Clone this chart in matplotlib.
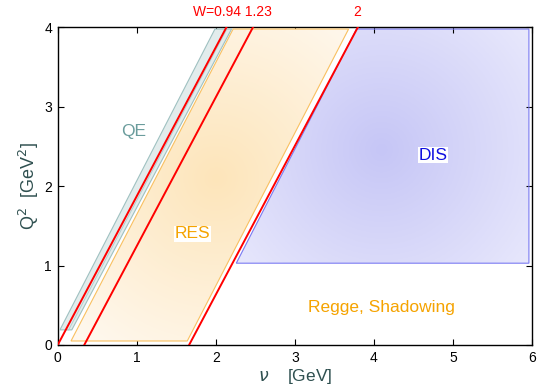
import matplotlib
matplotlib.use('Agg')
import matplotlib.pyplot as plt
import numpy as np
from matplotlib.patches import Polygon
from matplotlib.colors import LinearSegmentedColormap

plt.rcParams['font.family'] = ['Liberation Sans', 'DejaVu Sans']

# nucleon mass and invariant masses of the red lines
M = 0.938
W_vals = [0.94, 1.23, 2.0]
W_labels = ['W=0.94', '1.23', '2']

# region corners (nu, Q2)
qe_nu = [0.03, 0.18, 2.20, 1.99]
qe_q2 = [0.19, 0.19, 3.98, 3.98]
res_nu = [0.17, 1.64, 3.68, 2.22]
res_q2 = [0.05, 0.05, 3.98, 3.98]
dis_nu = [2.26, 5.96, 5.96, 3.78]
dis_q2 = [1.03, 1.03, 3.98, 3.98]

fig = plt.figure(figsize=(5.38, 3.92), dpi=100)
ax = fig.add_axes([0.107, 0.12, 0.882, 0.81])
ax.set_xlim(0, 6)
ax.set_ylim(0, 4)


def gradient_fill(nu, q2, cx, cy, c_in, c_out, edge, zorder, rad=2.6):
    poly = Polygon(np.column_stack([nu, q2]), closed=True, facecolor='none',
                   edgecolor=edge, lw=0.8, zorder=zorder + 1)
    ax.add_patch(poly)
    xs = np.linspace(min(nu), max(nu), 200)
    ys = np.linspace(min(q2), max(q2), 200)
    X, Y = np.meshgrid(xs, ys)
    r = np.sqrt(((X - cx) / rad) ** 2 + ((Y - cy) / rad) ** 2)
    r = np.clip(r, 0, 1)
    cmap = LinearSegmentedColormap.from_list('g', [c_in, c_out])
    im = ax.imshow(r, extent=[min(nu), max(nu), min(q2), max(q2)], origin='lower',
                   cmap=cmap, vmin=0, vmax=1, aspect='auto', zorder=zorder,
                   interpolation='bilinear')
    clip = Polygon(np.column_stack([nu, q2]), closed=True, transform=ax.transData)
    im.set_clip_path(clip)


# DIS region
gradient_fill(dis_nu, dis_q2, 4.1, 2.45, '#c6c6f6', '#eeeefd', '#7a7af2', 1, rad=2.8)
# RES region
gradient_fill(res_nu, res_q2, 2.0, 2.1, '#fde5ba', '#fff8ee', '#f9c060', 3, rad=2.6)

# QE band
ax.add_patch(Polygon(np.column_stack([qe_nu, qe_q2]), closed=True,
                     facecolor='#e2ecec', edgecolor='#9fc1c1', lw=0.8, zorder=5))
ax.plot([0.14, 2.14], [0.19, 3.98], color='#b5cfcf', lw=0.7, zorder=6)

# constant-W lines: Q2 = M^2 + 2 M nu - W^2
nu = np.array([0, 6])
for W in W_vals:
    ax.plot(nu, M ** 2 + 2 * M * nu - W ** 2, color='#ff0000', lw=1.4, zorder=7)

ax.text(0.96, 2.69, 'QE', color='#6a9c9c', fontsize=12.5, ha='center', va='center', zorder=8)
ax.text(1.70, 1.40, 'RES', color='#f5a300', fontsize=12.5, ha='center', va='center', zorder=8,
        bbox=dict(facecolor='white', edgecolor='none', pad=0.5))
ax.text(4.75, 2.39, 'DIS', color='#1010e0', fontsize=12.5, ha='center', va='center', zorder=8,
        bbox=dict(facecolor='white', edgecolor='none', pad=0.5))
ax.text(4.09, 0.47, 'Regge, Shadowing', color='#f5a300', fontsize=12.5, ha='center',
        va='center', zorder=8)

ax.text(1.71, 4.2, W_labels[0] + ' ' + W_labels[1], color='#ff0000', fontsize=10,
        ha='left', va='center', clip_on=False)
ax.text(3.79, 4.2, W_labels[2], color='#ff0000', fontsize=10, ha='center', va='center',
        clip_on=False)

ax.set_xticks(range(7))
ax.set_yticks(range(5))
ax.tick_params(direction='in', length=4, width=0.8, top=True, right=True, labelsize=10,
               pad=4)
for s in ax.spines.values():
    s.set_linewidth(1.0)

ax.set_ylabel(r'Q$^2$  [GeV$^2$]', color='#2f5050', fontsize=13, labelpad=2)
ax.set_xlabel(r'$\nu$    [GeV]', color='#2f5050', fontsize=12.5, labelpad=2)

fig.savefig('out.png', dpi=100)
